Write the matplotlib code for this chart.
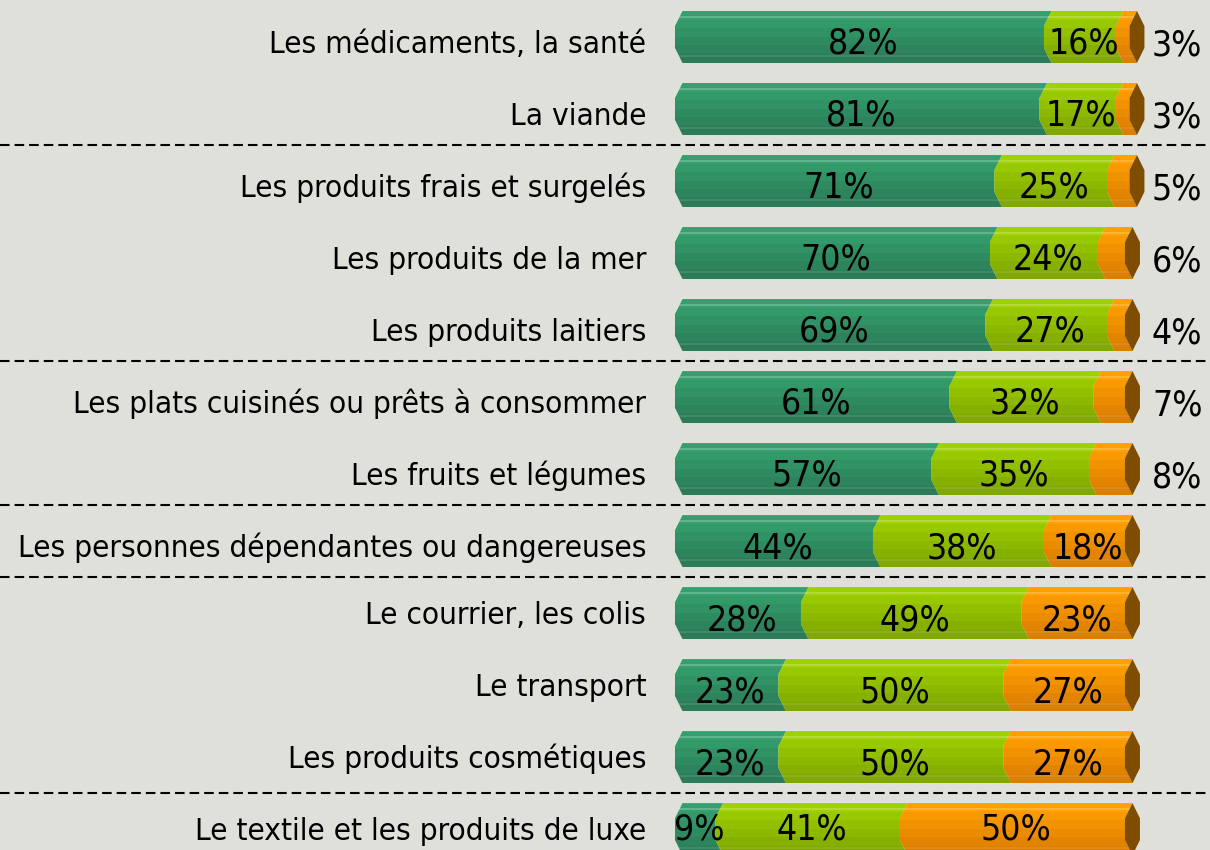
import matplotlib
matplotlib.use("Agg")
import matplotlib.pyplot as plt
import numpy as np
from matplotlib.colors import to_rgb
from matplotlib.patches import Polygon

categories = ["Les médicaments, la santé", "La viande", "Les produits frais et surgelés",
              "Les produits de la mer", "Les produits laitiers",
              "Les plats cuisinés ou prêts à consommer", "Les fruits et légumes",
              "Les personnes dépendantes ou dangereuses", "Le courrier, les colis",
              "Le transport", "Les produits cosmétiques", "Le textile et les produits de luxe"]
v1 = [82, 81, 71, 70, 69, 61, 57, 44, 28, 23, 23, 9]
v2 = [16, 17, 25, 24, 27, 32, 35, 38, 49, 50, 50, 41]
v3 = [3, 3, 5, 6, 4, 7, 8, 18, 23, 27, 27, 50]
separators = [1.5, 4.5, 6.5, 7.5, 10.5]

BG = "#e0e0da"
FONT = dict(family="DejaVu Sans", stretch="condensed")
SEG_COLORS = [("#35a06e", "#2a7d58"), ("#9fd000", "#80a800"), ("#ffa000", "#dc7e00")]
CAP = "#7f4d00"

fig = plt.figure(figsize=(12.1, 8.5), dpi=100)
fig.patch.set_facecolor(BG)
ax = fig.add_axes([0, 0, 1, 1])
ax.set_facecolor(BG)
XLIM = (-150, 118.9)
YLIM = (11.29, -0.514)

n = len(categories)
y = np.arange(n)
v1a, v2a, v3a = np.array(v1), np.array(v2), np.array(v3)
lefts = [np.zeros(n), v1a, v1a + v2a]
widths = [v1a, v2a, v3a]
H = 0.722
C = 1.67    # chamfer depth in x units
D = 0.21    # chamfer height in y units
CW = 3.33   # end cap width


def profile(ct, cb, npx=52):
    a, b = np.array(to_rgb(ct)), np.array(to_rgb(cb))
    rows = []
    for p in range(npx):
        t = p / (npx - 1)
        tb = np.floor(t * 6) / 5.0
        tb = min(tb, 1.0)
        col = a + (b - a) * tb
        if 0.09 < t < 0.13:
            col = col + (1 - col) * 0.22
        if 0.86 < t < 0.89:
            col = col + (1 - col) * 0.10
        rows.append(col)
    return np.array(rows)[:, None, :]


for (l, w, (ct, cb)) in zip(lefts, widths, SEG_COLORS):
    img = profile(ct, cb)
    for i in range(n):
        x0, x1 = l[i], l[i] + w[i]
        top, bot = y[i] - H / 2, y[i] + H / 2
        pts = [(x0 + C, top), (x1 + C, top), (x1, top + D), (x1, bot - D), (x1 + C, bot),
               (x0 + C, bot), (x0, bot - D), (x0, top + D)]
        poly = Polygon(pts, closed=True, facecolor="none", edgecolor="none")
        ax.add_patch(poly)
        im = ax.imshow(img, extent=(x0, x1 + C, bot, top), origin="upper",
                       aspect="auto", interpolation="nearest", zorder=1)
        im.set_clip_path(poly)

totals = v1a + v2a + v3a
for i in range(n):
    x1 = totals[i]
    top, bot = y[i] - H / 2, y[i] + H / 2
    cap = [(x1 + C, top), (x1 + CW, top + D), (x1 + CW, bot - D), (x1 + C, bot),
           (x1, bot - D), (x1, top + D)]
    ax.add_patch(Polygon(cap, closed=True, facecolor=CAP, edgecolor="none", zorder=2))

for s in separators:
    ax.axhline(s, color="black", lw=1.5, ls=(0, (4.6, 2.4)), zorder=3)

fs_cat = 22.6
fs_val = 25.5
for i, cat in enumerate(categories):
    off = 0.22 if i < 8 else 0.15
    ax.text(-6.4, i + off, cat, ha="right", va="baseline", fontsize=fs_cat, color="black", **FONT)
    voff = 0.235 if i < n - 1 else 0.15
    for l, w in zip(lefts, widths):
        if w is v3a and w[i] < 10:
            ax.text(106, i + 0.26, f"{w[i]}%", ha="left", va="baseline", fontsize=fs_val, zorder=4, **FONT)
        else:
            ax.text(l[i] + w[i] / 2 + 0.8, i + voff, f"{w[i]}%", ha="center", va="baseline",
                    fontsize=fs_val, zorder=4, **FONT)

ax.set_xlim(*XLIM)
ax.set_ylim(*YLIM)
ax.axis("off")
fig.savefig("out.png", dpi=100, facecolor=BG)
